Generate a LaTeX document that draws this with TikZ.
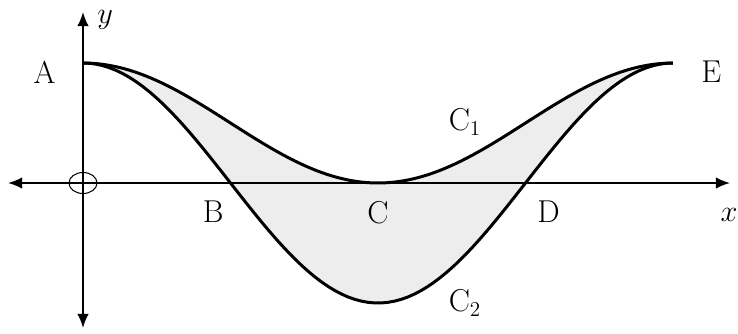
\documentclass[tikz,border=0pt]{standalone}
\usepackage{amsmath}
\usepackage{tikz}
\usetikzlibrary{arrows.meta, positioning, shapes.geometric}

\begin{document}
\begin{tikzpicture}[
    x=1.878cm, y=1.2cm,
    axis/.style={{Latex[length=8pt,width=6.5pt]}-{Latex[length=8pt,width=6.5pt]}, line width=1pt},
    curve/.style={line width=1.7pt},
    region/.style={fill=black!7},
    lbl/.style={inner sep=0pt, font=\fontsize{18}{20}\selectfont}
]
\useasboundingbox (-1.66cm,-3.0cm) rectangle (13.1cm,3.66cm);

% shaded area between C1 and C2
\fill[region] plot[domain=0:2*pi, samples=90] (\x,{1+cos(\x r)})
    -- plot[domain=2*pi:0, samples=90] (\x,{2*cos(\x r)}) -- cycle;

% axes
\coordinate (xl) at (-1.5cm,0);
\coordinate (xr) at (12.94cm,0);
\coordinate (yb) at (0,-2.9cm);
\coordinate (yt) at (0,3.42cm);
\draw[axis] (xl) -- (xr);
\draw[axis] (yb) -- (yt);
\node[ellipse, draw, line width=0.6pt, minimum width=0.56cm, minimum height=0.42cm, inner sep=0pt] (O) at (0,0) {};

% points
\coordinate (A) at (0,2);
\coordinate (B) at ({pi/2},0);
\coordinate (C) at ({pi},0);
\coordinate (D) at ({3*pi/2},0);
\coordinate (E) at ({2*pi},2);

% curves
\draw[curve] plot[domain=0:2*pi, samples=90] (\x,{1+cos(\x r)});
\draw[curve] plot[domain=0:2*pi, samples=90] (\x,{2*cos(\x r)});

% labels
\node[lbl, left=0.54cm of A, yshift=-0.18cm] (labA) {A};
\node[lbl, right=0.56cm of E, yshift=-0.18cm] (labE) {E};
\node[lbl, below left=0.36cm and 0.13cm of B] (labB) {B};
\node[lbl, below=0.36cm of C] (labC) {C};
\node[lbl, below right=0.36cm and 0.23cm of D] (labD) {D};
\node[lbl, right=0.28cm of yt, yshift=-0.16cm] (laby) {$y$};
\node[lbl, below=0.5cm of xr, xshift=-0.02cm] (labx) {$x$};
\node[lbl] (labC1) at (7.64cm,1.22cm) {C$_1$};
\node[lbl] (labC2) at (7.64cm,-2.4cm) {C$_2$};

\end{tikzpicture}
\end{document}
